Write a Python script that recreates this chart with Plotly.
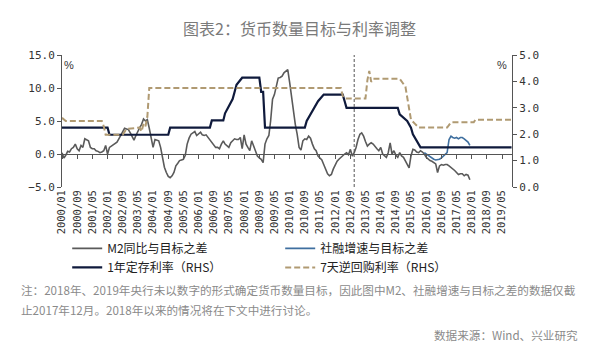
import plotly.graph_objects as go
import pandas as pd

# ---------------- data ----------------
m2_start = "2000-01-01"
m2_gap = [0.2, -0.6, -0.2, 0.4, 0.3, 0.8, 1.0, 1.5, 0.8, 0.5, 1.3, 1.0,
          2.3, 2.2, 2.0, 1.0, 0.8, 0.8, 0.5, 0.4, 0.2, 0.3, 0.5, 1.3,
          0.0, 1.0, 1.2, 1.5, 1.6, 1.8, 2.3, 2.8, 3.5, 3.9, 3.8, 3.7,
          3.2, 2.6, 2.1, 2.8, 3.5, 4.0, 4.5, 5.3, 5.0, 5.2, 3.9, 2.5,
          1.0, 2.2, 2.1, 2.0, 1.0, -0.5, -2.0, -2.8, -3.4, -3.6, -3.3, -2.8,
          -1.8, -1.4, -1.0, -0.9, -0.8, -0.2, 1.5, 2.4, 3.0, 3.2, 3.4, 2.8,
          3.1, 3.3, 2.9, 2.8, 2.9, 2.5, 2.0, 1.6, 1.3, 1.0, 1.0, 0.8,
          1.5, 2.0, 1.5, 1.2, 1.0, 1.7, 2.0, 2.3, 2.2, 2.2, 2.5, 0.8,
          2.9, 1.5, 1.0, 0.5, 2.0, 1.3, 0.5, -0.3, -0.6, -0.8, -1.3, 1.5,
          2.3, 2.8, 5.0, 8.3, 9.0, 10.3, 11.5, 11.6, 11.8, 12.3, 12.5, 12.8,
          10.8, 8.5, 6.0, 4.5, 3.0, 1.0, 0.6, 2.0, 2.3, 2.2, 2.7, 2.4,
          1.5, 0.8, 0.5, -0.3, -0.6, -0.9, -1.6, -2.4, -3.0, -3.3, -3.1, -2.3,
          -1.6, -1.1, -0.8, -0.5, -0.2, 0.0, 0.2, -0.1, 0.7, -0.3, 0.2, 1.0,
          2.2, 3.0, 3.2, 2.7, 1.9, 1.2, 1.5, 1.7, 1.5, 1.1, 0.8, 0.5,
          1.0, 0.0, -0.3, -0.5, 0.2, 1.7, 0.0, 0.5, -0.2, -0.5, 0.2, -0.3,
          -0.5, -1.0, -1.6, -2.1, -0.3, 0.7, 0.6, 0.3, 0.2, 0.5, 0.3, 0.0,
          -0.5, -0.8, -1.0, -1.1, -1.3, -1.5, -2.8, -1.8, -1.6, -1.7, -1.6, -1.6,
          -1.8, -2.0, -2.3, -2.5, -2.8, -3.1, -3.0, -3.0, -3.3, -3.1, -3.2, -3.9]

tsf_start = "2015-12-01"
tsf_gap = [0.2, 0.0, -0.2, -0.5, -0.7, -0.8, -0.9, -0.9, -0.8, -0.6, -0.3, 0.0,
           0.2, 2.2, 2.7, 2.5, 2.4, 2.5, 2.3, 2.5, 2.5, 2.3, 2.0, 1.8, 1.3]

dep_dates = ["2000-01", "2002-01", "2002-02", "2004-09", "2004-10", "2006-07", "2006-08",
             "2007-02", "2007-03", "2007-05", "2007-07", "2007-08", "2007-09", "2007-12",
             "2008-09", "2008-10", "2008-11", "2008-12", "2010-09", "2010-10", "2010-12",
             "2011-02", "2011-04", "2011-07", "2012-05", "2012-06", "2012-07", "2014-10",
             "2014-11", "2015-03", "2015-05", "2015-06", "2015-08", "2015-10", "2019-10"]
dep_rate = [2.25, 2.25, 1.98, 1.98, 2.25, 2.25, 2.52,
            2.52, 2.79, 3.06, 3.33, 3.60, 3.87, 4.14,
            4.14, 3.60, 3.60, 2.25, 2.25, 2.50, 2.75,
            3.00, 3.25, 3.50, 3.50, 3.25, 3.00, 3.00,
            2.75, 2.50, 2.25, 2.00, 1.75, 1.50, 1.50]

repo_dates = ["2000-01", "2000-03", "2001-10", "2001-11", "2001-12", "2002-09", "2002-11",
              "2003-06", "2003-07", "2003-08", "2003-09", "2003-10", "2003-11", "2012-04",
              "2012-05", "2012-06", "2013-05", "2013-06", "2013-07", "2013-08", "2013-09",
              "2014-11", "2015-02", "2015-03", "2015-05", "2015-07", "2015-09", "2016-12",
              "2017-02", "2018-02", "2018-03", "2019-10"]
repo_rate = [2.62, 2.50, 2.50, 2.30, 1.98, 1.98, 2.20,
             2.25, 2.10, 2.40, 2.30, 2.65, 3.75, 3.75,
             3.45, 3.35, 3.35, 4.05, 4.40, 3.98, 4.10,
             4.10, 3.80, 3.41, 2.55, 2.40, 2.25, 2.25,
             2.45, 2.45, 2.55, 2.55]

tick_labels = ["2000/01", "2000/09", "2001/05", "2002/01", "2002/09", "2003/05",
               "2004/01", "2004/09", "2005/05", "2006/01", "2006/09", "2007/05",
               "2008/01", "2008/09", "2009/05", "2010/01", "2010/09", "2011/05",
               "2012/01", "2012/09", "2013/05", "2014/01", "2014/09", "2015/05",
               "2016/01", "2016/09", "2017/05", "2018/01", "2018/09", "2019/05"]
marker_date = "2012-11-01"

# ---------------- figure ----------------
m2_x = pd.date_range(m2_start, periods=len(m2_gap), freq="MS")
tsf_x = pd.date_range(tsf_start, periods=len(tsf_gap), freq="MS")
tick_vals = [l.replace("/", "-") + "-01" for l in tick_labels]
x_range = ["2000-01-01", "2019-10-08"]

AX = "#555555"
CJK = "Noto Sans CJK SC"
MONO = "DejaVu Sans Mono"

fig = go.Figure()
fig.add_trace(go.Scatter(x=m2_x, y=m2_gap, name="M2同比与目标之差", mode="lines",
                         line=dict(color="#5a5a5a", width=1.6), legend="legend"))
fig.add_trace(go.Scatter(x=dep_dates, y=dep_rate, name="1年定存利率（RHS）", mode="lines",
                         line=dict(color="#0f1a3c", width=2.2), yaxis="y2", legend="legend"))
fig.add_trace(go.Scatter(x=tsf_x, y=tsf_gap, name="社融增速与目标之差", mode="lines",
                         line=dict(color="#3f6f9f", width=1.6), legend="legend2"))
fig.add_trace(go.Scatter(x=repo_dates, y=repo_rate, name="7天逆回购利率（RHS）", mode="lines",
                         line=dict(color="#b09a72", width=2, dash="6px,3px"), yaxis="y2",
                         legend="legend2"))
# helper trace so the zero-line axis is drawn
fig.add_trace(go.Scatter(x=[], y=[], xaxis="x2", yaxis="y", showlegend=False,
                         hoverinfo="skip"))

fig.add_shape(type="line", xref="x", yref="y", x0=marker_date, x1=marker_date,
              y0=-5, y1=15, line=dict(color="#555555", width=1, dash="3px,2px"))

legend_common = dict(orientation="v", xref="container", yref="container",
                     yanchor="top", xanchor="left", bgcolor="rgba(0,0,0,0)",
                     font=dict(family=CJK, size=12, color="#222222"),
                     itemwidth=30, tracegroupgap=0, traceorder="normal")

fig.update_layout(
    width=600, height=344,
    margin=dict(l=62, r=88, t=55, b=157, autoexpand=False),
    paper_bgcolor="white", plot_bgcolor="white",
    showlegend=True,
    legend=dict(x=0.112, y=0.32, **legend_common),
    legend2=dict(x=0.467, y=0.32, **legend_common),
    xaxis=dict(type="date", range=x_range, tickmode="array", tickvals=tick_vals,
               ticktext=tick_labels, tickangle=-90, showline=False, ticks="",
               showgrid=False, zeroline=False,
               tickfont=dict(family=MONO, size=10.5, color="#333333")),
    xaxis2=dict(type="date", range=x_range, overlaying="x", anchor="free",
                position=0.25, tickmode="array", tickvals=tick_vals,
                showticklabels=False, showline=True, linecolor=AX, linewidth=1,
                ticks="outside", ticklen=4, tickcolor=AX, showgrid=False,
                zeroline=False),
    yaxis=dict(range=[-5, 15], tickmode="array", tickvals=[-5, 0, 5, 10, 15],
               tickformat=".1f", showline=True, linecolor=AX, linewidth=1,
               ticks="outside", ticklen=4, tickcolor=AX, showgrid=False,
               zeroline=False, tickfont=dict(family=MONO, size=11, color="#333333")),
    yaxis2=dict(range=[0, 5], overlaying="y", side="right", tickmode="array",
                tickvals=[0, 1, 2, 3, 4, 5], tickformat=".1f", showline=True,
                linecolor=AX, linewidth=1, ticks="outside", ticklen=4, tickcolor=AX,
                showgrid=False, zeroline=False,
                tickfont=dict(family=MONO, size=11, color="#333333")),
)

# annotations positioned in page pixels, converted to paper coordinates
pw, ph = 600 - 62 - 88, 344 - 55 - 157


def px_anno(text, px_x, px_y, xanchor, font):
    fig.add_annotation(text=text, xref="paper", yref="paper", showarrow=False,
                       x=(px_x - 62) / pw, y=1 - (px_y - 55) / ph,
                       xanchor=xanchor, yanchor="middle", font=font)


px_anno("图表2：货币数量目标与利率调整", 299, 28, "center",
        dict(family=CJK, size=16, color="#7a7a7a"))
px_anno("%", 69, 65, "center", dict(family="Liberation Sans", size=11, color="#333333"))
px_anno("%", 502, 65, "center", dict(family="Liberation Sans", size=11, color="#333333"))
note_font = dict(family=CJK, size=11.6, color="#8a8a8a")
px_anno("注：2018年、2019年央行未以数字的形式确定货币数量目标，因此图中M2、社融增速与目标之差的数据仅截",
        19, 290, "left", note_font)
px_anno("止2017年12月。2018年以来的情况将在下文中进行讨论。", 19, 310, "left", note_font)
px_anno("数据来源：Wind、兴业研究", 580, 335, "right",
        dict(family=CJK, size=11.6, color="#8a8a8a"))

fig.write_html("out.html")
